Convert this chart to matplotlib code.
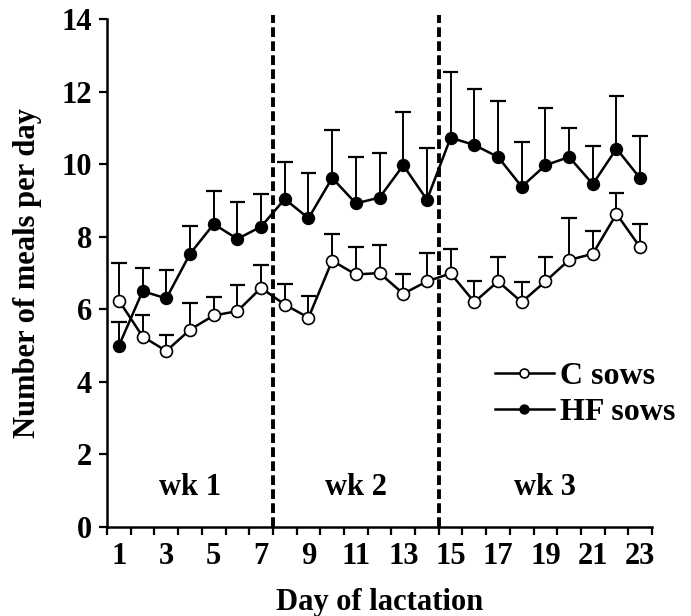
import matplotlib
matplotlib.use("Agg")
import matplotlib.pyplot as plt
import numpy as np

days = np.arange(1, 24)
c_mean = [6.24, 5.25, 4.85, 5.44, 5.83, 5.95, 6.59, 6.13, 5.77, 7.34, 6.96, 7.0,
          6.43, 6.77, 6.99, 6.2, 6.77, 6.2, 6.77, 7.36, 7.53, 8.63, 7.71]
c_top = [7.27, 5.85, 5.28, 6.17, 6.33, 6.67, 7.22, 6.7, 6.38, 8.08, 7.73, 7.78,
         6.96, 7.56, 7.66, 6.79, 7.43, 6.74, 7.43, 8.53, 8.15, 9.21, 8.35]
hf_mean = [5.0, 6.5, 6.3, 7.53, 8.35, 7.94, 8.28, 9.04, 8.51, 9.62, 8.92, 9.08,
           9.97, 9.02, 10.73, 10.53, 10.2, 9.38, 9.97, 10.2, 9.45, 10.43, 9.61]
hf_top = [5.65, 7.13, 7.08, 8.3, 9.25, 8.96, 9.17, 10.05, 9.77, 10.95, 10.21, 10.3,
          11.44, 10.46, 12.54, 12.08, 11.74, 10.62, 11.54, 11.01, 10.51, 11.88, 10.78]

week_bounds = [7.5, 14.5]
week_labels = ["wk 1", "wk 2", "wk 3"]
week_pos = [4, 11, 19]


def main():
    plt.rcParams["font.family"] = "Liberation Serif"
    plt.rcParams["font.weight"] = "bold"

    fig = plt.figure(figsize=(6.91, 6.16), dpi=100)
    ax = fig.add_axes([0.155, 0.1445, 0.7886, 0.8245])

    # upper SEM bars only
    cap = 0.33
    for mean, top in ((c_mean, c_top), (hf_mean, hf_top)):
        ax.vlines(days, mean, top, colors="black", lw=1.4, zorder=1)
        ax.hlines(top, days - cap, days + cap, colors="black", lw=1.6, zorder=1)

    ax.plot(days, c_mean, "-o", color="black", lw=1.8, ms=8.6,
            mfc="white", mec="black", mew=1.2, label="C sows", zorder=3)
    ax.plot(days, hf_mean, "-o", color="black", lw=1.8, ms=8.6,
            mfc="black", mec="black", label="HF sows", zorder=3)

    for b in week_bounds:
        ax.axvline(b, ymin=0, ymax=1.008, color="black", lw=2.8,
                   linestyle=(0, (2.5, 1.1)), clip_on=False, zorder=2)

    for pos, lab in zip(week_pos, week_labels):
        ax.text(pos, 1.1, lab, ha="center", va="center", fontsize=22, fontweight="bold")

    ax.set_xlim(0.5, 23.5)
    ax.set_ylim(0, 14)
    ax.set_yticks(np.arange(0, 15, 2))
    ax.set_xticks(np.arange(0.5, 24, 1))
    ax.set_xticklabels([])
    ax.set_xticks(days[::2], minor=True)
    ax.set_xticklabels([str(d) for d in days[::2]], minor=True)
    ax.tick_params(axis="x", which="major", direction="out", length=6, width=1.6)
    ax.tick_params(axis="x", which="minor", length=0, labelsize=22, pad=11)
    ax.tick_params(axis="y", direction="out", length=6, width=1.6, labelsize=22, pad=5)

    for s in ["top", "right"]:
        ax.spines[s].set_visible(False)
    for s in ["left", "bottom"]:
        ax.spines[s].set_linewidth(1.8)

    ax.set_xlabel("Day of lactation", fontsize=22, fontweight="bold", labelpad=12)
    ax.set_ylabel("Number of meals per day", fontsize=22, fontweight="bold", labelpad=14)

    ax.legend(loc="upper left", bbox_to_anchor=(0.716, 0.413), bbox_transform=fig.transFigure,
              frameon=False, fontsize=23, handlelength=1.85, handletextpad=0.2,
              labelspacing=0.22, borderpad=0, borderaxespad=0, markerscale=0.75)

    fig.savefig("out.png", dpi=100)
    plt.close()


main()
